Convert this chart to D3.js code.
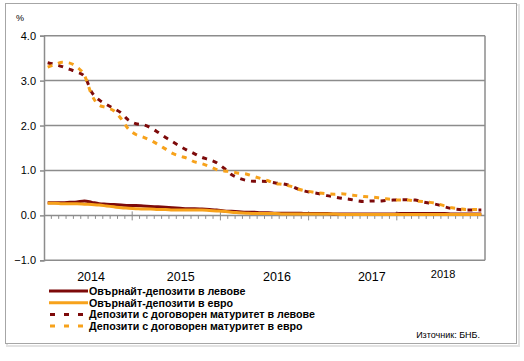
<!doctype html>
<html lang="bg">
<head>
<meta charset="UTF-8">
<title>Лихвени проценти по депозити</title>
<style>
    body { margin: 0; background: #fff; }
    .chart text { font-family: "Liberation Sans", Arial, sans-serif; fill: #000; }
    .legend text { font-weight: bold; font-size: 10.7px; }
</style>
</head>
<body>
<svg class="chart"></svg>
<script src="https://d3js.org/d3.v7.min.js"></script>
<script>
    // monthly, Jan 2014 - Dec 2018
    var years = [2014, 2015, 2016, 2017, 2018];
    var months = [];
    years.forEach(function(y) { for (var m = 1; m <= 12; m++) months.push(y + "-" + (m < 10 ? "0" + m : m)); });

    var overnightBgn = [0.28, 0.28, 0.28, 0.29, 0.30, 0.32, 0.29, 0.26, 0.25, 0.24, 0.23, 0.22,
        0.22, 0.21, 0.20, 0.19, 0.18, 0.17, 0.16, 0.15, 0.15, 0.14, 0.13, 0.12,
        0.10, 0.09, 0.08, 0.07, 0.07, 0.06, 0.06, 0.05, 0.05, 0.05, 0.05, 0.04,
        0.04, 0.04, 0.04, 0.03, 0.03, 0.03, 0.03, 0.03, 0.03, 0.03, 0.03, 0.03,
        0.04, 0.04, 0.04, 0.04, 0.04, 0.04, 0.04, 0.03, 0.03, 0.03, 0.03, 0.03];
    var overnightEur = [0.27, 0.27, 0.26, 0.26, 0.26, 0.25, 0.24, 0.23, 0.21, 0.19, 0.17, 0.16,
        0.15, 0.14, 0.14, 0.13, 0.13, 0.12, 0.12, 0.12, 0.12, 0.12, 0.11, 0.10,
        0.09, 0.07, 0.06, 0.05, 0.04, 0.04, 0.04, 0.04, 0.03, 0.03, 0.03, 0.03,
        0.03, 0.03, 0.03, 0.03, 0.02, 0.02, 0.02, 0.02, 0.02, 0.02, 0.02, 0.02,
        0.02, 0.02, 0.02, 0.02, 0.02, 0.02, 0.02, 0.02, 0.02, 0.02, 0.02, 0.02];
    var termBgn = [3.40, 3.36, 3.31, 3.25, 3.19, 3.10, 2.74, 2.57, 2.47, 2.38, 2.28, 2.12,
        2.04, 2.02, 1.95, 1.85, 1.74, 1.64, 1.54, 1.45, 1.37, 1.29, 1.24, 1.17,
        1.05, 0.91, 0.83, 0.78, 0.76, 0.76, 0.75, 0.72, 0.70, 0.66, 0.59, 0.54,
        0.51, 0.48, 0.44, 0.41, 0.38, 0.36, 0.33, 0.31, 0.32, 0.32, 0.33, 0.34,
        0.35, 0.35, 0.34, 0.30, 0.27, 0.24, 0.19, 0.15, 0.13, 0.12, 0.12, 0.12];
    var termEur = [3.30, 3.36, 3.41, 3.39, 3.30, 3.12, 2.68, 2.45, 2.40, 2.33, 2.15, 1.92,
        1.80, 1.74, 1.67, 1.58, 1.48, 1.38, 1.32, 1.27, 1.19, 1.15, 1.09, 1.02,
        0.99, 0.97, 0.94, 0.92, 0.87, 0.82, 0.77, 0.71, 0.69, 0.65, 0.59, 0.55,
        0.52, 0.50, 0.48, 0.47, 0.48, 0.46, 0.44, 0.42, 0.41, 0.39, 0.37, 0.35,
        0.34, 0.34, 0.32, 0.31, 0.29, 0.26, 0.21, 0.17, 0.15, 0.13, 0.13, 0.13];

    var seriesNames = ["Овърнайт-депозити в левове", "Овърнайт-депозити в евро",
        "Депозити с договорен матуритет в левове", "Депозити с договорен матуритет в евро"];
    var seriesValues = [overnightBgn, overnightEur, termBgn, termEur];
    var seriesColors = ["#7d0a0a", "#f7a21b", "#7d0a0a", "#f7a21b"];
    var seriesDash = [null, null, "5,6", "5,6"];

    var yTicks = [-1, 0, 1, 2, 3, 4];
    // year label positions, in months from Jan 2014
    var yearLabelPos = [6.4, 18.6, 31.7, 44.6, 54.3];

    var totalWidth = 524, totalHeight = 361;
    var plot = {left: 44, right: 485, top: 35.7, bottom: 260.3};

    var svg = d3.select(".chart").attr("width", totalWidth).attr("height", totalHeight);

    // outer frame with light shadow
    svg.append("rect").attr("x", 7).attr("y", 5).attr("width", 512).attr("height", 341)
        .attr("fill", "none").attr("stroke", "#e2e2e2").attr("stroke-width", 2);
    svg.append("rect").attr("x", 5.5).attr("y", 3.5).attr("width", 511).attr("height", 340)
        .attr("fill", "#fff").attr("stroke", "#a6a6a6").attr("stroke-width", 1);

    var x = d3.scalePoint().domain(months).range([plot.left, plot.right]).padding(0.5);
    var xm = d3.scaleLinear().domain([0, months.length]).range([plot.left, plot.right]);
    var y = d3.scaleLinear().domain([-1, 4]).range([plot.bottom, plot.top]);

    // gridlines
    svg.append("g").selectAll("line").data(yTicks.filter(function(d) { return d !== 0; })).enter()
        .append("line")
        .attr("x1", plot.left).attr("x2", plot.right)
        .attr("y1", function(d) { return y(d); }).attr("y2", function(d) { return y(d); })
        .attr("stroke", "#8c8c8c").attr("stroke-width", 1.5);

    // right border
    svg.append("line").attr("x1", plot.right).attr("x2", plot.right)
        .attr("y1", y(4)).attr("y2", y(-1)).attr("stroke", "#8c8c8c").attr("stroke-width", 1.5);

    // y axis
    var yAxis = svg.append("g").attr("transform", "translate(" + plot.left + ",0)")
        .call(d3.axisLeft(y).tickValues(yTicks).tickFormat(d3.format(".1f")).tickSize(4).tickPadding(4));
    yAxis.select(".domain").attr("stroke", "#8c8c8c").attr("stroke-width", 1.5);
    yAxis.selectAll(".tick line").attr("stroke", "#8c8c8c").attr("stroke-width", 1.5);
    yAxis.selectAll("text").style("font-size", "11px").attr("fill", "#000");

    svg.append("text").attr("x", 20).attr("y", 20.5).attr("text-anchor", "middle")
        .style("font-size", "9px").attr("fill", "#555").text("%");

    // x axis on the zero line
    svg.append("line").attr("x1", plot.left).attr("x2", plot.right)
        .attr("y1", y(0)).attr("y2", y(0)).attr("stroke", "#8c8c8c").attr("stroke-width", 1.5);
    var edges = d3.range(1, months.length);
    svg.append("g").selectAll("line").data(edges).enter().append("line")
        .attr("x1", function(d) { return xm(d); }).attr("x2", function(d) { return xm(d); })
        .attr("y1", function(d) { return d % 12 === 0 ? y(0) - 4 : y(0); })
        .attr("y2", function(d) { return y(0) + (d % 12 === 0 ? 5 : 3.5); })
        .attr("stroke", "#8c8c8c").attr("stroke-width", 1);

    svg.append("g").selectAll("text").data(years).enter().append("text")
        .attr("x", function(d, i) { return xm(yearLabelPos[i]); })
        .attr("y", function(d, i) { return i === 4 ? 278 : 281; })
        .attr("text-anchor", "middle")
        .style("font-size", function(d, i) { return i === 4 ? "11px" : "12.5px"; })
        .text(function(d) { return d; });

    // lines
    var line = d3.line()
        .x(function(d, i) { return x(months[i]); })
        .y(function(d) { return y(d); })
        .curve(d3.curveMonotoneX);

    [0, 1, 2, 3].forEach(function(k) {
        svg.append("path").datum(seriesValues[k])
            .attr("fill", "none")
            .attr("stroke", seriesColors[k])
            .attr("stroke-width", 3)
            .attr("stroke-dasharray", seriesDash[k])
            .attr("d", line);
    });

    // legend
    var legend = svg.append("g").attr("class", "legend");
    var rows = legend.selectAll("g").data(seriesNames).enter().append("g")
        .attr("transform", function(d, i) { return "translate(49," + (291 + i * 11.7) + ")"; });
    rows.append("line").attr("x1", 0).attr("x2", 39).attr("y1", 0).attr("y2", 0)
        .attr("stroke", function(d, i) { return seriesColors[i]; })
        .attr("stroke-width", 3)
        .attr("stroke-dasharray", function(d, i) { return seriesDash[i] ? "5,9" : null; })
        .attr("stroke-dashoffset", -1);
    rows.append("text").attr("x", 40).attr("y", 3.8).text(function(d) { return d; });

    svg.append("text").attr("x", 480).attr("y", 338).attr("text-anchor", "end")
        .style("font-size", "9px").text("Източник: БНБ.");
</script>
</body>
</html>
